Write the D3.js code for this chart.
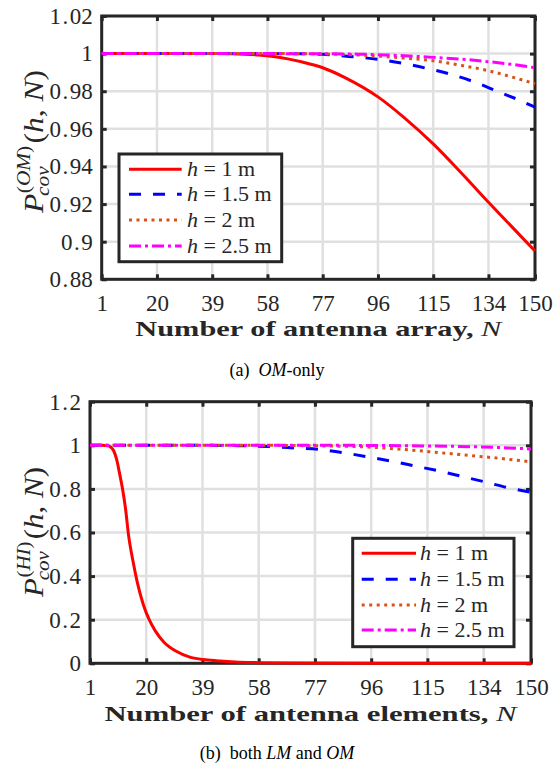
<!DOCTYPE html>
<html>
<head>
<meta charset="utf-8">
<script src="https://cdn.jsdelivr.net/npm/d3@7"></script>
<style>
  html, body { margin: 0; padding: 0; background: #ffffff; }
  svg { display: block; }
  text { font-family: "Liberation Serif", "Times New Roman", serif; }
</style>
</head>
<body>
<script>
// ---------------- DATA ----------------
const nTicks = [1, 20, 39, 58, 77, 96, 115, 134, 150];
const omYTicks = [0.88, 0.9, 0.92, 0.94, 0.96, 0.98, 1, 1.02];
const hiYTicks = [0, 0.2, 0.4, 0.6, 0.8, 1, 1.2];
const heightLabels = ["1", "1.5", "2", "2.5"];

// (a) OM-only
const omN_h1 = [1, 10, 20, 30, 40, 45, 50, 55, 60, 65, 70, 77, 85, 96, 105, 115, 125, 134, 142, 150];
const omP_h1 = [1, 1, 1, 1, 1, 0.9999, 0.9997, 0.9993, 0.9985, 0.9972, 0.9955, 0.9925, 0.987, 0.977, 0.966, 0.952, 0.936, 0.921, 0.908, 0.895];
const omN_h15 = [1, 20, 40, 60, 70, 77, 86, 96, 105, 113, 121, 129, 137, 145, 150];
const omP_h15 = [1, 1, 1, 1, 0.9999, 0.9996, 0.9985, 0.997, 0.9947, 0.9921, 0.989, 0.985, 0.980, 0.975, 0.9715];
const omN_h2 = [1, 40, 70, 80, 96, 105, 115, 124, 134, 142, 150];
const omP_h2 = [1, 1, 1, 0.9997, 0.9987, 0.9976, 0.9962, 0.9939, 0.9909, 0.9876, 0.984];
const omN_h25 = [1, 60, 90, 100, 115, 125, 134, 142, 150];
const omP_h25 = [1, 1, 0.9997, 0.9992, 0.998, 0.997, 0.9957, 0.9943, 0.9925];

// (b) both LM and OM
const hiN_h1 = [1, 5, 7, 8, 9, 10, 11, 12, 13, 14, 15.5, 17, 19, 21, 23, 26, 30, 35, 40, 45, 50, 58, 70, 100, 150];
const hiP_h1 = [1, 1, 0.998, 0.992, 0.975, 0.935, 0.87, 0.80, 0.71, 0.59, 0.47, 0.37, 0.27, 0.2, 0.15, 0.097, 0.056, 0.027, 0.016, 0.01, 0.006, 0.003, 0.001, 0, 0];
const hiN_h15 = [1, 30, 45, 52, 58, 65, 70, 78, 86, 94.5, 102.6, 110.8, 119, 127, 135, 143, 150];
const hiP_h15 = [1, 1, 0.9995, 0.998, 0.996, 0.992, 0.988, 0.982, 0.967, 0.948, 0.928, 0.905, 0.882, 0.856, 0.830, 0.803, 0.785];
const hiN_h2 = [1, 60, 75, 85, 95, 105, 117, 128, 139.5, 150];
const hiP_h2 = [1, 1, 0.998, 0.996, 0.992, 0.983, 0.969, 0.955, 0.940, 0.924];
const hiN_h25 = [1, 80, 100, 115, 125, 134, 142, 150];
const hiP_h25 = [1, 1, 0.999, 0.997, 0.995, 0.992, 0.988, 0.983];

// ---------------- STYLE ----------------
const colors = ["#ff0000", "#0000ff", "#d95319", "#ff00ff"];
const dashes = [null, "12,12", "3,4.5", "12,4,3,4"];
const axisColor = "#262626";
const gridColor = "#e0e0e0";

const svg = d3.select("body").append("svg").attr("width", 553).attr("height", 768);

function zip(a, b) { return a.map((v, i) => [v, b[i]]); }
const fmt = d => String(+d.toFixed(2));

function yLabel(cx, cy, sup, target) {
  const g = svg.append("g").attr("transform", `translate(${cx},${cy}) rotate(-90)`);
  const inner = g.append("g");
  const P = inner.append("text").attr("font-size", 28).attr("font-style", "italic").attr("fill", axisColor).text("P");
  const wP = P.node().getComputedTextLength();
  const sub = inner.append("text").attr("font-size", 19).attr("font-style", "italic").attr("fill", axisColor)
    .attr("x", wP - 2).attr("y", 6).text("cov");
  const sp = inner.append("text").attr("font-size", 19).attr("fill", axisColor).attr("x", wP + 0.5).attr("y", -13);
  sp.append("tspan").text("(");
  sp.append("tspan").attr("font-style", "italic").text(sup);
  sp.append("tspan").text(")");
  const wS = Math.max(sub.node().getComputedTextLength() - 2.5, sp.node().getComputedTextLength());
  const rest = inner.append("text").attr("font-size", 28).attr("fill", axisColor).attr("x", wP + 0.5 + wS + 2);
  rest.append("tspan").text("(");
  rest.append("tspan").attr("font-style", "italic").text("h");
  rest.append("tspan").text(", ");
  rest.append("tspan").attr("font-style", "italic").text("N");
  rest.append("tspan").text(")");
  const total = wP + 0.5 + wS + 2 + rest.node().getComputedTextLength();
  const s = Math.min(1.15, Math.max(0.9, target / total));
  inner.attr("transform", `translate(${-s * total / 2},0) scale(${s},1)`);
}

function panel(o) {
  const x = d3.scaleLinear().domain([1, 150]).range([o.l, o.r]);
  const y = d3.scaleLinear().domain(o.yDom).range([o.b, o.t]);
  const g = svg.append("g");

  // grid
  g.append("g").selectAll("line").data(nTicks).join("line")
    .attr("x1", d => x(d)).attr("x2", d => x(d)).attr("y1", o.t).attr("y2", o.b)
    .attr("stroke", gridColor).attr("stroke-width", 2.5);
  g.append("g").selectAll("line").data(o.yTicks).join("line")
    .attr("x1", o.l).attr("x2", o.r).attr("y1", d => y(d)).attr("y2", d => y(d))
    .attr("stroke", gridColor).attr("stroke-width", 2.5);

  const styleAxis = sel => {
    sel.select(".domain").remove();
    sel.selectAll(".tick line").attr("stroke", axisColor).attr("stroke-width", 3);
    sel.selectAll(".tick text").attr("fill", axisColor).attr("font-size", 23);
  };
  g.append("g").attr("transform", `translate(0,${o.b})`)
    .call(d3.axisBottom(x).tickValues(nTicks).tickSize(-5).tickPadding(15).tickFormat(fmt))
    .call(styleAxis);
  g.append("g").attr("transform", `translate(0,${o.t})`)
    .call(d3.axisTop(x).tickValues(nTicks).tickSize(-5).tickFormat(""))
    .call(styleAxis);
  const left = g.append("g").attr("transform", `translate(${o.l},0)`)
    .call(d3.axisLeft(y).tickValues(o.yTicks).tickSize(-5).tickPadding(9).tickFormat(fmt))
    .call(styleAxis);
  // slightly wider decimal point, as in the LaTeX tick labels
  left.selectAll(".tick text").each(function (d) {
    const s = fmt(d);
    const t = d3.select(this).text(null);
    if (s.includes(".")) {
      const [a, b] = s.split(".");
      t.append("tspan").text(a);
      t.append("tspan").attr("dx", 1.5).text(".");
      t.append("tspan").attr("dx", 1.5).text(b);
    } else {
      t.append("tspan").text(s);
    }
  });
  g.append("g").attr("transform", `translate(${o.r},0)`)
    .call(d3.axisRight(y).tickValues(o.yTicks).tickSize(-5).tickFormat(""))
    .call(styleAxis);

  // box
  g.append("rect").attr("x", o.l).attr("y", o.t).attr("width", o.r - o.l).attr("height", o.b - o.t)
    .attr("fill", "none").attr("stroke", axisColor).attr("stroke-width", 3);

  // lines
  const line = d3.line().x(d => x(d[0])).y(d => y(d[1])).curve(d3.curveMonotoneX);
  o.series.forEach((s, i) => {
    g.append("path").attr("d", line(s)).attr("fill", "none")
      .attr("stroke", colors[i]).attr("stroke-width", 3)
      .attr("stroke-dasharray", dashes[i]);
  });

  // legend
  const L = o.legend;
  const lg = svg.append("g");
  lg.append("rect").attr("x", L.x).attr("y", L.y).attr("width", L.w).attr("height", L.h)
    .attr("fill", "#ffffff").attr("stroke", axisColor).attr("stroke-width", 3);
  heightLabels.forEach((hl, i) => {
    const ry = L.rows[i];
    lg.append("line").attr("x1", L.s0).attr("x2", L.s1).attr("y1", ry).attr("y2", ry)
      .attr("stroke", colors[i]).attr("stroke-width", 3).attr("stroke-dasharray", dashes[i]);
    const t = lg.append("text").attr("x", L.tx).attr("y", ry + 7).attr("font-size", 22).attr("fill", axisColor);
    t.append("tspan").attr("font-style", "italic").text("h");
    t.append("tspan").text(" = " + hl + " m");
  });

  // x label
  const xl = svg.append("text").attr("x", (o.l + o.r) / 2).attr("y", o.xlY).attr("fill", axisColor)
    .attr("text-anchor", "middle").attr("font-size", 22).attr("font-weight", "bold")
    .attr("textLength", o.xlW).attr("lengthAdjust", "spacingAndGlyphs");
  xl.append("tspan").text(o.xlText + " ");
  xl.append("tspan").attr("font-style", "italic").attr("font-weight", "normal").text("N");

  // y label
  yLabel(o.ylX, o.ylY, o.sup, o.ylLen);

  // caption
  const cap = svg.append("text").attr("x", 277).attr("y", o.capY).attr("text-anchor", "middle")
    .attr("font-size", 18).attr("fill", "#000");
  o.caption.forEach(c => cap.append("tspan").attr("font-style", c[1] ? "italic" : "normal").text(c[0]));
}

panel({
  l: 101.7, r: 535, t: 16, b: 279.3, yDom: [0.88, 1.02], yTicks: omYTicks,
  series: [zip(omN_h1, omP_h1), zip(omN_h15, omP_h15), zip(omN_h2, omP_h2), zip(omN_h25, omP_h25)],
  legend: { x: 119, y: 154, w: 162.7, h: 107.7, rows: [169.3, 194.3, 220, 246], s0: 129, s1: 181.7, tx: 187 },
  xlText: "Number of antenna array,", xlW: 366, xlY: 336,
  ylX: 43, ylY: 141.5, sup: "OM", ylLen: 143,
  caption: [["(a)\u00a0\u00a0", false], ["OM", true], ["-only", false]], capY: 376
});

panel({
  l: 90, r: 531, t: 401.7, b: 663.3, yDom: [0, 1.2], yTicks: hiYTicks,
  series: [zip(hiN_h1, hiP_h1), zip(hiN_h15, hiP_h15), zip(hiN_h2, hiP_h2), zip(hiN_h25, hiP_h25)],
  legend: { x: 352.7, y: 538.3, w: 161.3, h: 108.4, rows: [553.3, 579.3, 605, 630], s0: 361.7, s1: 416, tx: 420 },
  xlText: "Number of antenna elements,", xlW: 412, xlY: 721,
  ylX: 43, ylY: 532, sup: "HI", ylLen: 130,
  caption: [["(b)\u00a0\u00a0both\u00a0", false], ["LM", true], ["\u00a0and\u00a0", false], ["OM", true]], capY: 759
});
</script>
</body>
</html>
